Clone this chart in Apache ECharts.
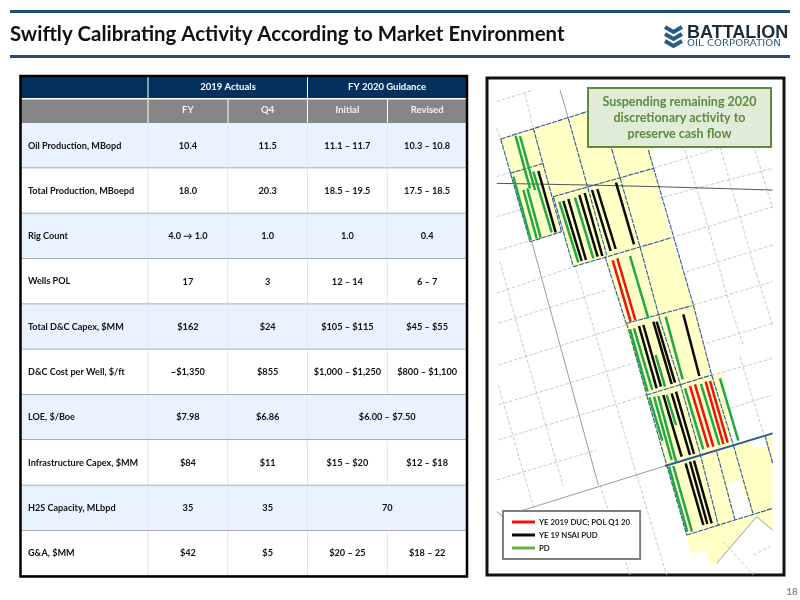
<!DOCTYPE html>
<html>
<head>
<meta charset="utf-8">
<style>html,body{margin:0;background:#fff}#main{width:800px;height:600px}</style>
<script src="https://cdn.jsdelivr.net/npm/echarts@6/dist/echarts.min.js"></script>
</head>
<body>
<div id="main"></div>
<script>
// table values
const metrics = ['Oil Production, MBopd', 'Total Production, MBoepd', 'Rig Count', 'Wells POL', 'Total D&C Capex, $MM',
  'D&C Cost per Well, $/ft', 'LOE, $/Boe', 'Infrastructure Capex, $MM', 'H2S Capacity, MLbpd', 'G&A, $MM'];
const columns = ['FY', 'Q4', 'Initial', 'Revised'];
const groupHeaders = ['2019 Actuals', 'FY 2020 Guidance'];
const fyValues = ['10.4', '18.0', '4.0 → 1.0', '17', '$162', '~$1,350', '$7.98', '$84', '35', '$42'];
const q4Values = ['11.5', '20.3', '1.0', '3', '$24', '$855', '$6.86', '$11', '35', '$5'];
const initialValues = ['11.1 – 11.7', '18.5 – 19.5', '1.0', '12 – 14', '$105 – $115', '$1,000 – $1,250', '$6.00 – $7.50', '$15 – $20', '70', '$20 – 25'];
const revisedValues = ['10.3 – 10.8', '17.5 – 18.5', '0.4', '6 – 7', '$45 – $55', '$800 – $1,100', null, '$12 – $18', null, '$18 – 22'];

// map values, x1 y1 x2 y2 in map units (3 units to a pixel)
const redWells = [[368, 556, 422, 740], [382, 550, 436, 735], [600, 933, 655, 1117], [615, 928, 670, 1115], [647, 920, 700, 1107], [660, 918, 713, 1103]];
const blackWells = [[145, 288, 197, 472], [220, 378, 275, 558], [235, 372, 288, 555], [268, 360, 323, 545], [284, 354, 337, 543], [306, 345, 362, 528],
  [322, 342, 377, 522], [378, 323, 432, 508], [447, 753, 500, 940], [460, 750, 513, 935], [490, 740, 545, 927], [500, 740, 555, 923], [580, 718, 628, 903],
  [520, 960, 575, 1145], [545, 955, 600, 1140], [558, 950, 612, 1137], [587, 1165, 640, 1350], [600, 1160, 652, 1347], [612, 1157, 665, 1345]];
const greenWells = [[77, 183, 120, 340], [90, 183, 135, 345], [70, 305, 122, 495], [100, 345, 140, 490], [112, 340, 152, 488], [130, 290, 185, 472],
  [208, 380, 265, 562], [255, 368, 310, 550], [420, 543, 475, 730], [420, 763, 473, 950], [432, 760, 487, 945], [497, 840, 525, 935], [527, 725, 578, 913],
  [478, 967, 517, 1097], [492, 965, 545, 1155], [505, 963, 558, 1160], [530, 960, 558, 1050], [585, 940, 640, 1123], [633, 927, 688, 1110], [690, 910, 745, 1097],
  [537, 1175, 592, 1370], [550, 1173, 606, 1370]];
const sectionLines = [[32, 192, 120, 500], [32, 192, 480, 50], [130, 160, 215, 472], [235, 130, 350, 540], [350, 170, 450, 515], [450, 515, 510, 735], [510, 735, 570, 925],
  [570, 925, 630, 1135], [630, 1135, 685, 1350], [475, 225, 610, 690], [610, 690, 665, 900], [665, 900, 730, 1110], [730, 1110, 790, 1320], [190, 365, 250, 575],
  [345, 545, 410, 750], [410, 745, 470, 960], [470, 960, 590, 1380], [60, 295, 160, 265], [190, 365, 490, 280], [120, 500, 215, 470], [250, 575, 545, 488],
  [410, 745, 605, 692], [470, 960, 665, 900], [590, 1380, 848, 1300], [680, 1130, 735, 1335], [825, 1080, 848, 1165]];
const thickSectionLines = [[525, 1173, 848, 1075]];
const gridLines = [[20, 80, 130, 45], [20, 305, 60, 293], [20, 425, 105, 400], [25, 525, 120, 497], [20, 655, 250, 575], [25, 745, 350, 645], [25, 870, 410, 750],
  [25, 990, 430, 865], [25, 1095, 470, 960], [20, 1215, 320, 1125], [490, 280, 848, 170], [505, 370, 848, 280], [545, 488, 848, 395], [590, 590, 848, 510],
  [610, 690, 848, 620], [650, 805, 848, 745], [665, 900, 848, 850], [720, 1000, 848, 960],
  [105, 55, 130, 160], [20, 160, 32, 192], [30, 560, 80, 745], [80, 745, 220, 1235], [25, 930, 130, 1295], [255, 570, 440, 1200], [440, 1200, 530, 1500],
  [585, 225, 650, 440], [650, 440, 710, 660], [710, 660, 760, 810], [690, 215, 748, 420], [748, 420, 800, 600], [800, 600, 848, 750], [795, 225, 848, 400],
  [750, 845, 848, 1165], [330, 1230, 420, 1500], [700, 1400, 790, 1500], [790, 1440, 848, 1410]];
const darkGridLines = [[210, 45, 235, 130], [125, 500, 325, 1230], [85, 1310, 525, 1173], [20, 1310, 40, 1325], [680, 1465, 800, 1325], [800, 1325, 848, 1365]];
const leaseRoad = [[20, 325, 290, 330], [290, 330, 500, 335], [500, 335, 848, 345]];
const acreage = [[32, 192], [480, 50], [490, 280], [545, 488], [610, 690], [625, 735], [665, 900], [700, 890], [730, 1110], [848, 1075], [848, 1365], [800, 1325], [680, 1465],
  [660, 1465], [650, 1425], [600, 1435], [590, 1380], [345, 545], [250, 575], [190, 365], [215, 470], [120, 500]];
const acreageHoles = [[[780, 1090], [825, 1080], [835, 1115], [790, 1120]], [[715, 1225], [750, 1215], [785, 1320], [735, 1335]]];

const wellNames = ['YE 2019 DUC; POL Q1 20', 'YE 19 NSAI PUD', 'PD'];

const rowFills = ['#E8F3FF', '#FFFFFF'];
const textColor = '#111111';

const toCoords = rows => rows.map(r => ({ coords: [[r[0], r[1]], [r[2], r[3]]] }));

// cells of the four value columns, a null neighbour means the cell spans two columns
const cells = [];
[fyValues, q4Values, initialValues, revisedValues].forEach((vals, col) => {
  vals.forEach((v, row) => {
    if (v !== null) cells.push({ col, row, text: v, span: col === 2 && revisedValues[row] === null ? 2 : 1 });
  });
});

function renderRow(params, api) {
  const row = api.value(1);
  const cs = params.coordSys;
  const y = api.coord([0, row])[1];
  const h = api.size([1, 1])[1];
  return {
    type: 'group',
    children: [
      { type: 'rect', shape: { x: 20, y: y - h / 2, width: cs.x + cs.width - 20, height: h }, style: { fill: rowFills[row % 2] } },
      { type: 'line', shape: { x1: cs.x, y1: y - h / 2, x2: cs.x, y2: y + h / 2 }, style: { stroke: '#dfe5ea', lineWidth: 1 } },
      { type: 'line', shape: { x1: 20, y1: y + h / 2, x2: cs.x + cs.width, y2: y + h / 2 }, style: { stroke: '#8f9498', lineWidth: 1.5 } }
    ]
  };
}

function renderCell(params, api) {
  const c = cells[params.dataIndex];
  const p = api.coord([c.col, c.row]);
  const size = api.size([1, 1]);
  const left = p[0] - size[0] / 2;
  const right = left + size[0] * c.span;
  const children = [{
    type: 'text',
    style: { x: (left + right) / 2, y: p[1], text: c.text, textAlign: 'center', textVerticalAlign: 'middle',
      fill: textColor, font: 'bold 9.2px Lato' }
  }];
  if (left + size[0] * c.span < params.coordSys.x + params.coordSys.width - 1) {
    children.push({ type: 'line', shape: { x1: right, y1: p[1] - size[1] / 2 + 1, x2: right, y2: p[1] + size[1] / 2 - 1 }, style: { stroke: '#dfe5ea', lineWidth: 1 } });
  }
  return { type: 'group', children };
}

function renderPolygon(fill, list) {
  return function (params, api) {
    return { type: 'polygon', shape: { points: list[params.dataIndex].map(p => api.coord(p)) }, style: { fill } };
  };
}

function lineSeries(name, rows, color, width, type, opacity) {
  return {
    name, type: 'lines', coordinateSystem: 'cartesian2d', xAxisIndex: 1, yAxisIndex: 1, polyline: false, silent: true,
    data: toCoords(rows), itemStyle: { color },
    lineStyle: { color, width, type: type || 'solid', opacity: opacity || 1, curveness: 0 }
  };
}

const chart = echarts.init(document.getElementById('main'), null, { renderer: 'canvas' });
chart.setOption({
  animation: false,
  textStyle: { fontFamily: 'Lato' },
  title: {
    text: 'Swiftly Calibrating Activity According to Market Environment',
    left: 5, top: 19,
    textStyle: { color: '#111', fontSize: 20.4, fontWeight: 'bold', fontFamily: 'Lato' }
  },
  legend: {
    orient: 'vertical', left: 503, top: 511,
    data: [
      { name: wellNames[0], itemStyle: { color: '#F01010', borderWidth: 0 } },
      { name: wellNames[1], itemStyle: { color: '#0a0a0a', borderWidth: 0 } },
      { name: wellNames[2], itemStyle: { color: '#6FAE48', borderWidth: 0 } }
    ],
    icon: 'rect',
    itemWidth: 23, itemHeight: 3, itemGap: 4, padding: [6.5, 10, 6.5, 9],
    lineStyle: { width: 0 },
    backgroundColor: '#fff', borderColor: '#7f7f7f', borderWidth: 2, selectedMode: false, z: 20,
    textStyle: { fontSize: 7.8, lineHeight: 9, fontWeight: 'bold', color: '#222', fontFamily: 'Lato', padding: [0, 0, 0, -1] }
  },
  grid: [
    { left: 148, top: 123, width: 319, height: 453 },
    { left: 487, top: 78, width: 297, height: 497, show: true, borderColor: '#111', borderWidth: 3, backgroundColor: '#fff' }
  ],
  xAxis: [
    { type: 'category', gridIndex: 0, position: 'top', data: columns, z: 5, axisLine: { show: false }, axisTick: { show: false },
      axisLabel: { color: '#f2f2f2', fontSize: 9.5, fontWeight: 'bold', margin: 8, fontFamily: 'Lato' } },
    { type: 'value', gridIndex: 1, min: -9, max: 882, show: false }
  ],
  yAxis: [
    { type: 'category', gridIndex: 0, inverse: true, data: metrics, z: 5, axisLine: { show: false }, axisTick: { show: false },
      axisLabel: { color: textColor, fontSize: 9.1, fontWeight: 'bold', align: 'left', margin: 120, fontFamily: 'Lato' } },
    { type: 'value', gridIndex: 1, min: 9, max: 1500, inverse: true, show: false }
  ],
  series: [
    { type: 'custom', xAxisIndex: 0, yAxisIndex: 0, z: 1, silent: true, clip: false, renderItem: renderRow, data: metrics.map((m, i) => [0, i]) },
    { type: 'custom', xAxisIndex: 0, yAxisIndex: 0, z: 2, silent: true, clip: false, renderItem: renderCell, data: cells.map(c => [c.col, c.row]) },
    { type: 'custom', xAxisIndex: 1, yAxisIndex: 1, z: 2, silent: true, renderItem: renderPolygon('#FFFFC6', [acreage]), data: [[0, 0]] },
    { type: 'custom', xAxisIndex: 1, yAxisIndex: 1, z: 3, silent: true, renderItem: renderPolygon('#FFFFFF', acreageHoles), data: acreageHoles.map(() => [0, 0]) },
    Object.assign(lineSeries('grid', gridLines, '#c4c4c4', 0.9, 'dashed'), { z: 4 }),
    Object.assign(lineSeries('dark', darkGridLines, '#9c9c9c', 1), { z: 4 }),
    Object.assign(lineSeries('road', leaseRoad, '#555555', 1), { z: 4 }),
    Object.assign(lineSeries('sections', sectionLines, '#2b5b9b', 1.1, [5, 1]), { z: 5 }),
    Object.assign(lineSeries('thick', thickSectionLines, '#2b5b9b', 2), { z: 5 }),
    Object.assign(lineSeries(wellNames[2], greenWells, '#1FA84A', 2.5), { z: 6 }),
    Object.assign(lineSeries(wellNames[1], blackWells, '#0a0a0a', 2.5), { z: 6 }),
    Object.assign(lineSeries(wellNames[0], redWells, '#F01010', 2.5), { z: 6 })
  ],
  graphic: [
    // slide rules
    { type: 'rect', z: 0, shape: { x: 10, y: 10, width: 780, height: 3 }, style: { fill: '#1F4E79' } },
    { type: 'rect', z: 0, shape: { x: 10, y: 55, width: 780, height: 3 }, style: { fill: '#1F4E79' } },
    // logo
    { type: 'polyline', z: 0, shape: { points: [[665, 27], [673.5, 32], [682, 27]] }, style: { stroke: '#2A5C85', lineWidth: 4, fill: null } },
    { type: 'polyline', z: 0, shape: { points: [[665, 34], [673.5, 39], [682, 34]] }, style: { stroke: '#2A5C85', lineWidth: 4, fill: null } },
    { type: 'polyline', z: 0, shape: { points: [[665, 41], [673.5, 46], [682, 41]] }, style: { stroke: '#2A5C85', lineWidth: 4, fill: null } },
    { type: 'text', z: 0, style: { x: 687, y: 24, text: 'BATTALION', fill: '#1E2C3A', font: '900 18px "Liberation Sans"' } },
    { type: 'text', z: 0, x: 687, y: 40, scaleX: 1.27, style: { x: 0, y: 0, text: 'OIL CORPORATION', fill: '#2A5C85', font: '8px "DejaVu Sans"' } },
    // table header
    { type: 'rect', z: 0, shape: { x: 20, y: 76, width: 447, height: 23 }, style: { fill: '#03305C' } },
    { type: 'rect', z: 0, shape: { x: 20, y: 99, width: 447, height: 24 }, style: { fill: '#868686' } },
    { type: 'rect', z: 0, shape: { x: 20, y: 98, width: 447, height: 1.5 }, style: { fill: '#fff' } },
    { type: 'rect', z: 0, shape: { x: 147.5, y: 76, width: 1, height: 47 }, style: { fill: '#fff' } },
    { type: 'rect', z: 0, shape: { x: 227.5, y: 99, width: 1, height: 24 }, style: { fill: '#fff' } },
    { type: 'rect', z: 0, shape: { x: 307, y: 76, width: 1, height: 47 }, style: { fill: '#fff' } },
    { type: 'rect', z: 0, shape: { x: 387, y: 99, width: 1, height: 24 }, style: { fill: '#fff' } },
    { type: 'text', z: 10, style: { x: 228, y: 87, text: groupHeaders[0], textAlign: 'center', textVerticalAlign: 'middle', fill: '#fff', font: 'bold 9.5px Lato' } },
    { type: 'text', z: 10, style: { x: 387, y: 87, text: groupHeaders[1], textAlign: 'center', textVerticalAlign: 'middle', fill: '#fff', font: 'bold 9.5px Lato' } },
    { type: 'rect', z: 10, shape: { x: 20.5, y: 76, width: 446.5, height: 500.5 }, style: { fill: null, stroke: '#000', lineWidth: 2.5 } },
    // callout over the map
    { type: 'rect', z: 20, shape: { x: 588, y: 88, width: 183, height: 59 }, style: { fill: '#E0EBD8', stroke: '#5E8A3E', lineWidth: 2 } },
    { type: 'text', z: 21, style: { x: 679.5, y: 117.5, text: 'Suspending remaining 2020\ndiscretionary activity to\npreserve cash flow', textAlign: 'center', textVerticalAlign: 'middle', lineHeight: 16, fill: '#5E8A3E', font: 'bold 12.5px Lato' } },
    // page number
    { type: 'text', z: 0, style: { x: 792, y: 592, text: '18', textAlign: 'center', textVerticalAlign: 'middle', fill: '#8a8a8a', font: 'bold 10px Lato' } }
  ]
});
</script>
</body>
</html>
